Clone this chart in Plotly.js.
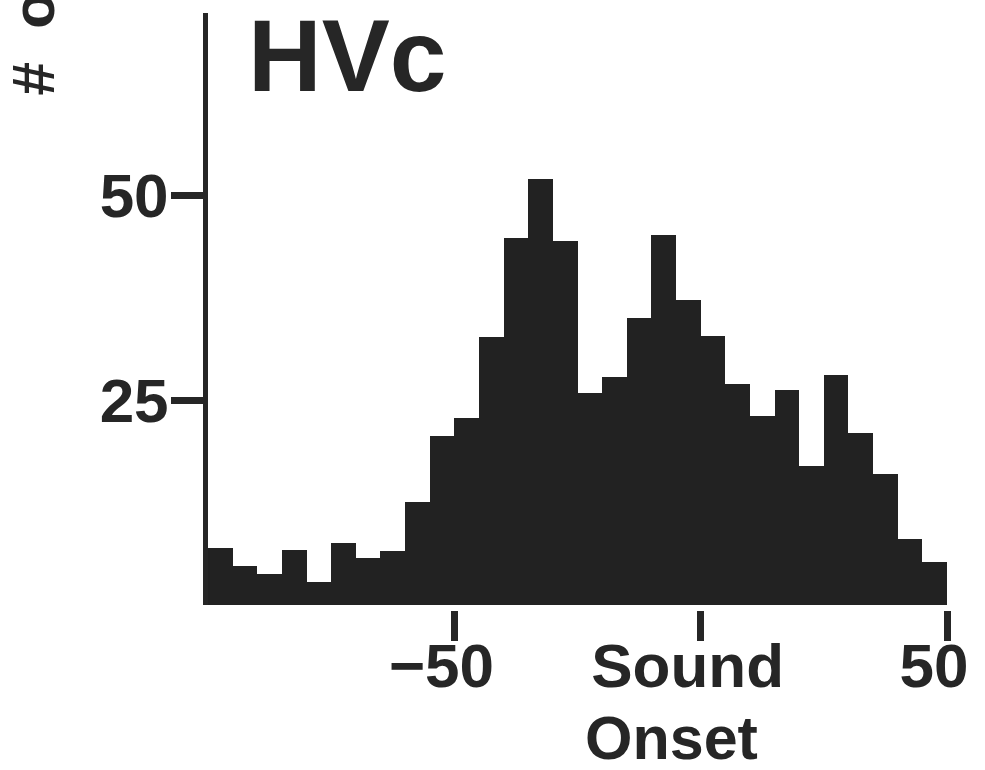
<!DOCTYPE html>
<html>
<head>
<meta charset="utf-8">
<script src="https://cdn.plot.ly/plotly-3.0.1.min.js"></script>
<style>
  html, body { margin: 0; padding: 0; background: #ffffff; }
  #chart { width: 985px; height: 770px; }
</style>
</head>
<body>
<div id="chart"></div>
<script>
// ---- data ----
const binCenters = [-97.5, -92.5, -87.5, -82.5, -77.5, -72.5, -67.5, -62.5, -57.5, -52.5,
                    -47.5, -42.5, -37.5, -32.5, -27.5, -22.5, -17.5, -12.5, -7.5, -2.5,
                    2.5, 7.5, 12.5, 17.5, 22.5, 27.5, 32.5, 37.5, 42.5, 47.5];
const counts = [7, 4.7, 3.8, 6.7, 2.8, 7.6, 5.7, 6.6, 12.6, 20.6,
                22.8, 32.7, 44.7, 51.9, 44.4, 25.9, 27.8, 35, 45.1, 37.2,
                32.8, 27, 23, 26.2, 17, 28.1, 21, 16, 8, 5.2];
const xTickVals = [-50, 0, 50];
const xTickText = ["\u221250", "Sound", "50"];
const yTickVals = [25, 50];
const yTickText = ["25", "50"];
const panelLabel = "HVc";
const yTitle = "#\u00a0\u00a0of cells";
const xTitleLine2 = "Onset";

const ink = "#262626";
const fontFam = "Liberation Sans, Arial, Helvetica, sans-serif";

const trace = {
  type: "bar",
  x: binCenters,
  y: counts,
  width: 5,
  marker: { color: "#222222", line: { width: 0 } },
  hoverinfo: "x+y"
};

const L = 208, R = 38, T = 13, B = 160;
const plotW = 985 - L - R;
const plotH = 770 - T - B;
const px2x = (px) => (px - L) / plotW;
const py2y = (py) => (770 - B - py) / plotH;

const layout = {
  width: 985,
  height: 770,
  margin: { l: L, r: R, t: T, b: B, pad: 0 },
  paper_bgcolor: "#ffffff",
  plot_bgcolor: "#ffffff",
  showlegend: false,
  bargap: 0,
  xaxis: {
    range: [-100, 50],
    domain: [0, 1],
    anchor: "free",
    position: 0,
    showline: false,
    showgrid: false,
    zeroline: false,
    ticks: "outside",
    ticklen: 30,
    tickwidth: 7,
    tickcolor: ink,
    tickmode: "array",
    tickvals: xTickVals,
    ticktext: xTickText,
    ticklabelshift: -13,
    ticklabelstandoff: -28,
    tickfont: { family: fontFam, size: 62, color: ink, weight: "bold" },
    fixedrange: true
  },
  yaxis: {
    range: [0, 72.2],
    domain: [5 / plotH, 1],
    anchor: "x",
    showline: true,
    linewidth: 5,
    linecolor: ink,
    showgrid: false,
    zeroline: false,
    ticks: "outside",
    ticklen: 32,
    tickwidth: 7,
    tickcolor: ink,
    tickmode: "array",
    tickvals: yTickVals,
    ticktext: yTickText,
    ticklabelstandoff: -10,
    tickfont: { family: fontFam, size: 62, color: ink, weight: "bold" },
    fixedrange: true
  },
  annotations: [
    {
      text: panelLabel,
      xref: "paper", yref: "paper",
      x: px2x(246), y: py2y(56),
      xanchor: "left", yanchor: "middle",
      showarrow: false,
      font: { family: fontFam, size: 102, color: ink, weight: "bold" }
    },
    {
      text: xTitleLine2,
      xref: "x", yref: "paper",
      x: xTickVals[1], xshift: -29,
      y: py2y(738),
      xanchor: "center", yanchor: "middle",
      showarrow: false,
      font: { family: fontFam, size: 61, color: ink, weight: "bold" }
    },
    {
      text: yTitle,
      xref: "paper", yref: "paper",
      x: px2x(33), y: py2y(98),
      xanchor: "center", yanchor: "bottom",
      textangle: -90,
      showarrow: false,
      font: { family: fontFam, size: 60, color: ink, weight: "bold" }
    }
  ]
};

Plotly.newPlot("chart", [trace], layout, { staticPlot: true, displayModeBar: false });
</script>
</body>
</html>
